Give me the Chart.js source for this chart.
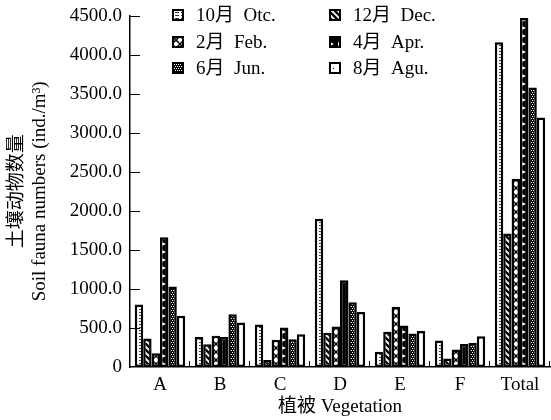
<!DOCTYPE html>
<html lang="zh">
<head>
    <meta charset="UTF-8">
    <title>Soil fauna numbers</title>
    <script src="https://cdn.jsdelivr.net/npm/chart.js"></script>
    <style>
        body { margin: 0; background: #fff; }
        #wrap { width: 551px; height: 420px; }
    </style>
</head>
<body>
    <div id="wrap"><canvas id="faunaChart" width="551" height="420"></canvas></div>
    <script>
        // values (ind./m3)
        const categories = ['A', 'B', 'C', 'D', 'E', 'F', 'Total'];
        const seriesLabels = ['10月  Otc.', '12月  Dec.', '2月  Feb.', '4月  Apr.', '6月  Jun.', '8月  Agu.'];
        const octValues = [800, 385, 545, 1900, 195, 340, 4160];
        const decValues = [365, 290, 90, 440, 450, 110, 1710];
        const febValues = [175, 400, 350, 520, 770, 225, 2410];
        const aprValues = [1660, 385, 505, 1110, 530, 295, 4470];
        const junValues = [1030, 675, 355, 830, 430, 310, 3580];
        const augValues = [655, 570, 420, 705, 460, 395, 3195];
        const yTicks = [0, 500, 1000, 1500, 2000, 2500, 3000, 3500, 4000, 4500];

        const FONT = '"Liberation Serif", "Noto Sans CJK SC", serif';

        // black & white fill patterns like the printed figure
        function makePattern(kind) {
            const c = document.createElement('canvas');
            const g = c.getContext('2d');
            if (kind === 'ladder') {
                c.width = 6; c.height = 3;
                g.fillStyle = '#fff'; g.fillRect(0, 0, 6, 3);
                g.fillStyle = '#333'; g.fillRect(1, 0, 4, 1);
            } else if (kind === 'diag') {
                c.width = 6; c.height = 6;
                g.fillStyle = '#fff'; g.fillRect(0, 0, 6, 6);
                g.strokeStyle = '#000'; g.lineWidth = 2.4;
                g.beginPath();
                g.moveTo(-1, -1); g.lineTo(7, 7);
                g.moveTo(-4, 2); g.lineTo(4, 10);
                g.moveTo(2, -4); g.lineTo(10, 4);
                g.stroke();
            } else if (kind === 'cross') {
                c.width = 8; c.height = 8;
                g.fillStyle = '#fff'; g.fillRect(0, 0, 8, 8);
                g.strokeStyle = '#000'; g.lineWidth = 1.5;
                g.beginPath();
                g.moveTo(0, 0); g.lineTo(8, 8);
                g.moveTo(8, 0); g.lineTo(0, 8);
                g.stroke();
            } else if (kind === 'tri') {
                c.width = 8; c.height = 8;
                g.fillStyle = '#000'; g.fillRect(0, 0, 8, 8);
                g.fillStyle = '#fff';
                g.beginPath();
                g.moveTo(2, 2); g.lineTo(6, 4); g.lineTo(2, 6); g.closePath();
                g.fill();
            } else if (kind === 'checker') {
                c.width = 4; c.height = 4;
                g.fillStyle = '#000'; g.fillRect(0, 0, 4, 4);
                g.fillStyle = '#fff';
                g.fillRect(0, 0, 1, 1); g.fillRect(2, 0, 1, 1);
                g.fillRect(1, 2, 1, 1); g.fillRect(3, 2, 1, 1);
            } else {
                c.width = 6; c.height = 8;
                g.fillStyle = '#fff'; g.fillRect(0, 0, 6, 8);
                g.fillStyle = '#000'; g.fillRect(3, 4, 1, 1);
            }
            return g.createPattern(c, 'repeat');
        }

        const patterns = ['ladder', 'diag', 'cross', 'tri', 'checker', 'dots'].map(makePattern);
        const allValues = [octValues, decValues, febValues, aprValues, junValues, augValues];

        // inward ticks on both axes + two-column legend inside the plot
        const extras = {
            id: 'extras',
            afterDraw(chart) {
                const ctx = chart.ctx;
                const x = chart.scales.x, y = chart.scales.y;
                const area = chart.chartArea;
                ctx.save();
                ctx.strokeStyle = '#000';
                ctx.lineWidth = 1;
                ctx.beginPath();
                yTicks.forEach(v => {
                    if (v === 0) return;
                    const py = Math.round(y.getPixelForValue(v)) + 0.5;
                    ctx.moveTo(area.left, py);
                    ctx.lineTo(area.left + 10, py);
                });
                const step = x.width / categories.length;
                for (let i = 1; i <= categories.length; i++) {
                    const px = Math.round(x.left + i * step) - 0.5;
                    ctx.moveTo(px, area.bottom);
                    ctx.lineTo(px, area.bottom - 6);
                }
                ctx.stroke();

                // legend
                const cols = [173, 330];
                const rows = [15, 42, 68];
                ctx.font = '19px ' + FONT;
                ctx.textBaseline = 'middle';
                ctx.textAlign = 'left';
                chart.data.datasets.forEach((ds, i) => {
                    const bx = cols[i % 2], by = rows[Math.floor(i / 2)];
                    ctx.fillStyle = ds.backgroundColor;
                    ctx.fillRect(bx, by - 5, 10, 10);
                    ctx.lineWidth = 2;
                    ctx.strokeRect(bx, by - 5, 10, 10);
                    ctx.fillStyle = '#000';
                    ctx.fillText(ds.label, bx + 23, by + 1);
                });
                ctx.restore();
            }
        };

        const ctx = document.getElementById('faunaChart').getContext('2d');
        new Chart(ctx, {
            type: 'bar',
            data: {
                labels: categories,
                datasets: allValues.map((vals, i) => ({
                    label: seriesLabels[i],
                    data: vals,
                    backgroundColor: patterns[i],
                    borderColor: '#000',
                    borderWidth: 2.5,
                    borderSkipped: false
                }))
            },
            options: {
                responsive: false,
                animation: false,
                layout: { padding: { top: 0, right: 1, bottom: 1, left: 0 } },
                datasets: { bar: { categoryPercentage: 0.84, barPercentage: 1.0 } },
                plugins: {
                    legend: { display: false },
                    tooltip: { enabled: false }
                },
                scales: {
                    x: {
                        grid: { display: false, drawTicks: false },
                        border: { display: true, color: '#000', width: 1.5 },
                        ticks: { color: '#000', padding: 7, font: { family: FONT, size: 19 } },
                        title: {
                            display: true,
                            text: '植被 Vegetation',
                            color: '#000',
                            padding: { top: 0, bottom: 1 },
                            font: { family: FONT, size: 19 }
                        },
                        afterFit(scale) { scale.height = 52; }
                    },
                    y: {
                        min: 0,
                        max: 4500,
                        grid: { display: false, drawTicks: false },
                        border: { display: true, color: '#000', width: 1.5 },
                        afterBuildTicks(scale) { scale.ticks = yTicks.map(v => ({ value: v })); },
                        ticks: {
                            color: '#000',
                            padding: 8,
                            font: { family: FONT, size: 19, lineHeight: 0.8 },
                            callback: v => v === 0 ? '0' : v.toFixed(1)
                        },
                        title: {
                            display: true,
                            text: ['土壤动物数量', 'Soil fauna numbers (ind./m³)'],
                            color: '#000',
                            padding: { top: 6, bottom: 0 },
                            font: { family: FONT, size: 19 }
                        },
                        afterFit(scale) { scale.width = 130; }
                    }
                }
            },
            plugins: [extras]
        });
    </script>
</body>
</html>
